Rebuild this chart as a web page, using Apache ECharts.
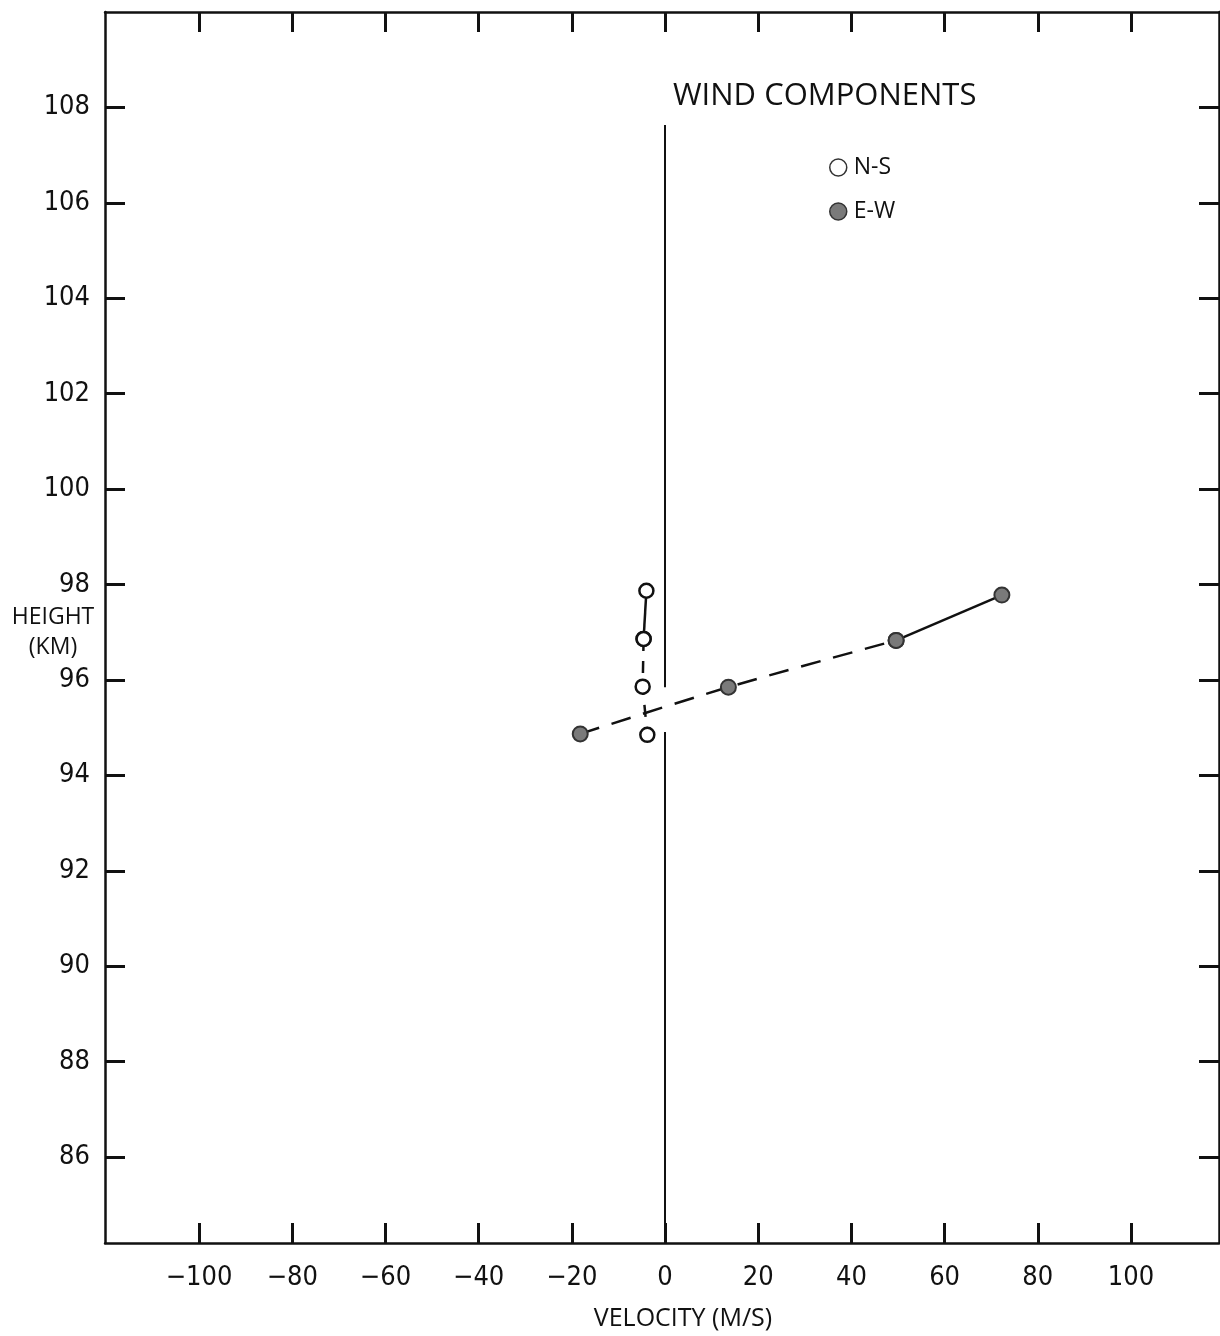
<!DOCTYPE html>
<html>
<head>
<meta charset="utf-8">
<script src="https://cdn.jsdelivr.net/npm/echarts@6/dist/echarts.min.js"></script>
<style>
  html, body { margin: 0; padding: 0; background: #fff; }
  #chart { width: 1220px; height: 1336px; }
</style>
</head>
<body>
<div id="chart"></div>
<script>
// ---- data ----
const xTickValues = [-100, -80, -60, -40, -20, 0, 20, 40, 60, 80, 100];
const xTickLabels = ['\u2212100', '\u221280', '\u221260', '\u221240', '\u221220', '0', '20', '40', '60', '80', '100'];
const yTickValues = [86, 88, 90, 92, 94, 96, 98, 100, 102, 104, 106, 108];
const yTickLabels = ['86', '88', '90', '92', '94', '96', '98', '100', '102', '104', '106', '108'];

// N-S component (open circles): velocity (m/s), height (km)
const nsVelocity = [-4.0, -4.6, -4.8, -3.8];
const nsHeight = [97.87, 96.86, 95.86, 94.85];
// E-W component (filled circles)
const ewVelocity = [-18.2, 13.6, 49.6, 72.3];
const ewHeight = [94.87, 95.85, 96.83, 97.78];

// zero-velocity reference line segments (height ranges)
const zeroLineSegments = [[107.63, 95.85], [94.91, 84.2]];

const xMin = -120.2, xMax = 118.9;
const yMin = 84.2, yMax = 110;

function pairs(xs, ys, from, to) {
  const out = [];
  for (let i = from; i <= to; i++) out.push([xs[i], ys[i]]);
  return out;
}

const ink = '#111';
const letterFont = "'Open Sans', 'DejaVu Sans', sans-serif";
const digitFont = "'Liberation Sans Narrow', 'DejaVu Sans Condensed', 'Liberation Sans', sans-serif";

const nsSymbol = { color: '#fff', borderColor: ink, borderWidth: 2.5 };
const ewSymbol = { color: '#7a7a7a', borderColor: '#333', borderWidth: 2 };

const chart = echarts.init(document.getElementById('chart'), null, { renderer: 'canvas' });

const xLabelMap = {};
xTickValues.forEach((v, i) => { xLabelMap[v] = xTickLabels[i]; });
const yLabelMap = {};
yTickValues.forEach((v, i) => { yLabelMap[v] = yTickLabels[i]; });

const axisLine = { show: true, onZero: false, lineStyle: { color: ink, width: 2.5 } };

chart.setOption({
  backgroundColor: '#fff',
  animation: false,
  title: {
    text: 'WIND COMPONENTS',
    left: 668,
    top: 74,
    textStyle: { fontFamily: letterFont, fontWeight: 'normal', fontSize: 31, color: ink, lineHeight: 34 }
  },
  legend: {
    orient: 'vertical',
    left: 824,
    top: 151,
    itemWidth: 17,
    itemHeight: 17,
    itemGap: 21,
    textStyle: { fontFamily: letterFont, fontSize: 23, color: ink, padding: [0, 0, 0, 2] },
    data: [
      { name: 'N-S', icon: 'circle', itemStyle: { color: '#fff', borderColor: '#333', borderWidth: 1.5 } },
      { name: 'E-W', icon: 'circle', itemStyle: { color: '#7a7a7a', borderColor: '#333', borderWidth: 1.5 } }
    ]
  },
  grid: { left: 105, right: 1, top: 12, bottom: 93, containLabel: false, outerBoundsMode: 'none' },
  xAxis: [
    {
      type: 'value', position: 'bottom', min: xMin, max: xMax,
      axisLine: axisLine,
      splitLine: { show: false },
      axisTick: { show: true, inside: true, length: 20, customValues: xTickValues, lineStyle: { color: ink, width: 3 } },
      axisLabel: {
        show: true, margin: 21, customValues: xTickValues,
        formatter: v => xLabelMap[Math.round(v)] ?? '',
        fontFamily: digitFont, fontSize: 27, color: ink
      },
      name: 'VELOCITY (M/S)',
      nameLocation: 'middle',
      nameGap: 63,
      nameMoveOverlap: false,
      nameTextStyle: { fontFamily: letterFont, fontSize: 25, color: ink, padding: [0, 0, 0, 42] }
    },
    {
      type: 'value', position: 'top', min: xMin, max: xMax,
      axisLine: axisLine,
      splitLine: { show: false },
      axisTick: { show: true, inside: true, length: 20, customValues: xTickValues, lineStyle: { color: ink, width: 3 } },
      axisLabel: { show: false }
    }
  ],
  yAxis: [
    {
      type: 'value', position: 'left', min: yMin, max: yMax,
      axisLine: axisLine,
      splitLine: { show: false },
      axisTick: { show: true, inside: true, length: 20, customValues: yTickValues, lineStyle: { color: ink, width: 3 } },
      axisLabel: {
        show: true, margin: 15, customValues: yTickValues,
        formatter: v => yLabelMap[Math.round(v)] ?? '',
        fontFamily: digitFont, fontSize: 27, color: ink
      },
      name: '{s| }\nHEIGHT\n(KM)',
      nameLocation: 'middle',
      nameRotate: 0,
      nameGap: 52,
      nameMoveOverlap: false,
      nameTextStyle: {
        fontFamily: letterFont, fontSize: 23, color: ink, align: 'center', lineHeight: 30,
        rich: { s: { fontSize: 6, lineHeight: 9 } }
      }
    },
    {
      type: 'value', position: 'right', min: yMin, max: yMax,
      axisLine: axisLine,
      splitLine: { show: false },
      axisTick: { show: true, inside: true, length: 20, customValues: yTickValues, lineStyle: { color: ink, width: 3 } },
      axisLabel: { show: false }
    }
  ],
  series: [
    {
      name: 'zero', type: 'line', data: [], silent: true,
      markLine: {
        silent: true, symbol: ['none', 'none'], label: { show: false },
        lineStyle: { color: ink, width: 2, type: 'solid' },
        data: zeroLineSegments.map(s => [{ coord: [0, s[0]] }, { coord: [0, s[1]] }])
      }
    },
    {
      name: 'E-W', type: 'line', smooth: 0.3,
      data: pairs(ewVelocity, ewHeight, 0, 2),
      symbol: 'circle', symbolSize: 15, itemStyle: ewSymbol,
      lineStyle: { color: ink, width: 2.5, type: [20, 13] }, z: 3
    },
    {
      name: 'E-W', type: 'line', smooth: 0.3,
      data: pairs(ewVelocity, ewHeight, 2, 3),
      symbol: 'circle', symbolSize: 15, itemStyle: ewSymbol,
      lineStyle: { color: ink, width: 2.5, type: 'solid' }, z: 3
    },
    {
      name: 'N-S', type: 'line',
      data: pairs(nsVelocity, nsHeight, 0, 1),
      symbol: 'circle', symbolSize: 14, itemStyle: nsSymbol,
      lineStyle: { color: ink, width: 2.5, type: 'solid' }, z: 4
    },
    {
      name: 'N-S', type: 'line',
      data: pairs(nsVelocity, nsHeight, 1, 3),
      symbol: 'circle', symbolSize: 14, itemStyle: nsSymbol,
      lineStyle: { color: ink, width: 2.5, type: [12, 10] }, z: 4
    }
  ]
});
</script>
</body>
</html>
